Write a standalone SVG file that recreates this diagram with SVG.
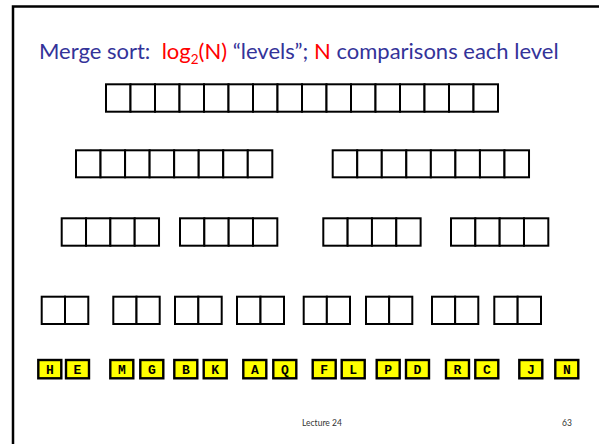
<svg xmlns="http://www.w3.org/2000/svg" width="599" height="444" viewBox="0 0 599 444">
  <style>
    .frame { fill: none; stroke: #000; stroke-width: 2.5; }
    .cell { fill: #fff; stroke: #000; stroke-width: 2; }
    .key { fill: #ffff00; stroke: #000; stroke-width: 2.4; }
    .key-edge { fill: none; stroke: #888; stroke-width: 0.8; }
    .title { font-family: "Lato", "Liberation Sans", sans-serif; font-size: 22px; fill: #333399; }
    .hot { fill: #ff0000; }
    .sub { font-size: 13.5px; }
    .letter { font-family: "Liberation Mono", "Courier New", monospace; font-weight: bold; font-size: 13px; fill: #000; text-anchor: middle; }
    .foot { font-family: "Lato", "Liberation Sans", sans-serif; font-size: 8.5px; fill: #333; }
  </style>

  <rect width="599" height="444" fill="#fff"/>
  <!-- slide frame: top and left edges -->
  <path class="frame" d="M13 444 V6.5 H599"/>

  <text class="title" x="39" y="59" xml:space="preserve">Merge sort:  <tspan class="hot">log<tspan class="sub" dy="5">2</tspan><tspan dy="-5">(N)</tspan></tspan> “levels”; <tspan class="hot">N</tspan> comparisons each level</text>

  <!-- level 0: one run of 16 -->
  <g id="level0">
    <g id="run-16">
      <rect class="cell" x="106" y="84.3" width="24.5" height="27.4"/>
      <rect class="cell" x="130.5" y="84.3" width="24.5" height="27.4"/>
      <rect class="cell" x="155" y="84.3" width="24.5" height="27.4"/>
      <rect class="cell" x="179.5" y="84.3" width="24.5" height="27.4"/>
      <rect class="cell" x="204" y="84.3" width="24.5" height="27.4"/>
      <rect class="cell" x="228.5" y="84.3" width="24.5" height="27.4"/>
      <rect class="cell" x="253" y="84.3" width="24.5" height="27.4"/>
      <rect class="cell" x="277.5" y="84.3" width="24.5" height="27.4"/>
      <rect class="cell" x="302" y="84.3" width="24.5" height="27.4"/>
      <rect class="cell" x="326.5" y="84.3" width="24.5" height="27.4"/>
      <rect class="cell" x="351" y="84.3" width="24.5" height="27.4"/>
      <rect class="cell" x="375.5" y="84.3" width="24.5" height="27.4"/>
      <rect class="cell" x="400" y="84.3" width="24.5" height="27.4"/>
      <rect class="cell" x="424.5" y="84.3" width="24.5" height="27.4"/>
      <rect class="cell" x="449" y="84.3" width="24.5" height="27.4"/>
      <rect class="cell" x="473.5" y="84.3" width="24.5" height="27.4"/>
    </g>
  </g>

  <!-- level 1: two runs of 8 -->
  <g id="level1">
    <g id="run-8a">
      <rect class="cell" x="76" y="150.3" width="24.54" height="27"/>
      <rect class="cell" x="100.54" y="150.3" width="24.54" height="27"/>
      <rect class="cell" x="125.08" y="150.3" width="24.54" height="27"/>
      <rect class="cell" x="149.62" y="150.3" width="24.54" height="27"/>
      <rect class="cell" x="174.16" y="150.3" width="24.54" height="27"/>
      <rect class="cell" x="198.7" y="150.3" width="24.54" height="27"/>
      <rect class="cell" x="223.24" y="150.3" width="24.54" height="27"/>
      <rect class="cell" x="247.78" y="150.3" width="24.54" height="27"/>
    </g>
    <g id="run-8b">
      <rect class="cell" x="332.7" y="150.3" width="24.54" height="27"/>
      <rect class="cell" x="357.24" y="150.3" width="24.54" height="27"/>
      <rect class="cell" x="381.78" y="150.3" width="24.54" height="27"/>
      <rect class="cell" x="406.32" y="150.3" width="24.54" height="27"/>
      <rect class="cell" x="430.86" y="150.3" width="24.54" height="27"/>
      <rect class="cell" x="455.4" y="150.3" width="24.54" height="27"/>
      <rect class="cell" x="479.94" y="150.3" width="24.54" height="27"/>
      <rect class="cell" x="504.48" y="150.3" width="24.54" height="27"/>
    </g>
  </g>

  <!-- level 2: four runs of 4 -->
  <g id="level2">
    <g id="run-4a">
      <rect class="cell" x="61.7" y="218.3" width="24.33" height="27.4"/>
      <rect class="cell" x="86.03" y="218.3" width="24.33" height="27.4"/>
      <rect class="cell" x="110.36" y="218.3" width="24.33" height="27.4"/>
      <rect class="cell" x="134.69" y="218.3" width="24.33" height="27.4"/>
    </g>
    <g id="run-4b">
      <rect class="cell" x="180" y="218.3" width="24.33" height="27.4"/>
      <rect class="cell" x="204.33" y="218.3" width="24.33" height="27.4"/>
      <rect class="cell" x="228.66" y="218.3" width="24.33" height="27.4"/>
      <rect class="cell" x="252.99" y="218.3" width="24.33" height="27.4"/>
    </g>
    <g id="run-4c">
      <rect class="cell" x="323.3" y="218.3" width="24.33" height="27.4"/>
      <rect class="cell" x="347.63" y="218.3" width="24.33" height="27.4"/>
      <rect class="cell" x="371.96" y="218.3" width="24.33" height="27.4"/>
      <rect class="cell" x="396.29" y="218.3" width="24.33" height="27.4"/>
    </g>
    <g id="run-4d">
      <rect class="cell" x="451" y="218.3" width="24.33" height="27.4"/>
      <rect class="cell" x="475.33" y="218.3" width="24.33" height="27.4"/>
      <rect class="cell" x="499.66" y="218.3" width="24.33" height="27.4"/>
      <rect class="cell" x="523.99" y="218.3" width="24.33" height="27.4"/>
    </g>
  </g>

  <!-- level 3: eight runs of 2 -->
  <g id="level3">
    <g id="run-2a"><rect class="cell" x="41.7" y="296.7" width="23.3" height="27.3"/><rect class="cell" x="65" y="296.7" width="23.3" height="27.3"/></g>
    <g id="run-2b"><rect class="cell" x="113.3" y="296.7" width="23.2" height="27.3"/><rect class="cell" x="136.5" y="296.7" width="23.2" height="27.3"/></g>
    <g id="run-2c"><rect class="cell" x="175" y="296.7" width="23.35" height="27.3"/><rect class="cell" x="198.35" y="296.7" width="23.35" height="27.3"/></g>
    <g id="run-2d"><rect class="cell" x="237" y="296.7" width="23.5" height="27.3"/><rect class="cell" x="260.5" y="296.7" width="23.5" height="27.3"/></g>
    <g id="run-2e"><rect class="cell" x="303.7" y="296.7" width="23.15" height="27.3"/><rect class="cell" x="326.85" y="296.7" width="23.15" height="27.3"/></g>
    <g id="run-2f"><rect class="cell" x="366" y="296.7" width="23.15" height="27.3"/><rect class="cell" x="389.15" y="296.7" width="23.15" height="27.3"/></g>
    <g id="run-2g"><rect class="cell" x="432" y="296.7" width="23.15" height="27.3"/><rect class="cell" x="455.15" y="296.7" width="23.15" height="27.3"/></g>
    <g id="run-2h"><rect class="cell" x="494.3" y="296.7" width="23.35" height="27.3"/><rect class="cell" x="517.65" y="296.7" width="23.35" height="27.3"/></g>
  </g>

  <!-- level 4: the sixteen input keys -->
  <g id="keys">
    <g id="key-H"><rect class="key" x="38.3" y="360" width="23" height="18.3"/><text class="letter" x="49.8" y="373.5">H</text></g>
    <g id="key-E"><rect class="key" x="66" y="360" width="23" height="18.3"/><text class="letter" x="77.5" y="373.5">E</text></g>
    <g id="key-M"><rect class="key" x="110.3" y="360" width="23" height="18.3"/><text class="letter" x="121.8" y="373.5">M</text></g>
    <g id="key-G"><rect class="key" x="140.3" y="360" width="23" height="18.3"/><text class="letter" x="151.8" y="373.5">G</text></g>
    <g id="key-B"><rect class="key" x="174.3" y="360" width="23" height="18.3"/><text class="letter" x="185.8" y="373.5">B</text></g>
    <g id="key-K"><rect class="key" x="203.7" y="360" width="23" height="18.3"/><text class="letter" x="215.2" y="373.5">K</text></g>
    <g id="key-A"><rect class="key" x="243.3" y="360" width="23" height="18.3"/><text class="letter" x="254.8" y="373.5">A</text></g>
    <g id="key-Q"><rect class="key" x="273.3" y="360" width="23" height="18.3"/><text class="letter" x="284.8" y="373.5">Q</text></g>
    <g id="key-F"><rect class="key" x="312.7" y="360" width="23" height="18.3"/><text class="letter" x="324.2" y="373.5">F</text></g>
    <g id="key-L"><rect class="key" x="341.7" y="360" width="23" height="18.3"/><text class="letter" x="353.2" y="373.5">L</text></g>
    <g id="key-P"><rect class="key" x="376.7" y="360" width="23" height="18.3"/><text class="letter" x="388.2" y="373.5">P</text></g>
    <g id="key-D"><rect class="key" x="406" y="360" width="23" height="18.3"/><text class="letter" x="417.5" y="373.5">D</text></g>
    <g id="key-R"><rect class="key" x="446" y="360" width="23" height="18.3"/><text class="letter" x="457.5" y="373.5">R</text></g>
    <g id="key-C"><rect class="key" x="475.3" y="360" width="23" height="18.3"/><text class="letter" x="486.8" y="373.5">C</text></g>
    <g id="key-J"><rect class="key" x="519.3" y="360" width="23" height="18.3"/><text class="letter" x="530.8" y="373.5">J</text></g>
    <g id="key-N"><rect class="key" x="555.3" y="360" width="23" height="18.3"/><text class="letter" x="566.8" y="373.5">N</text></g>
  </g>

  <text class="foot" x="302" y="426">Lecture 24</text>
  <text class="foot" x="562" y="426">63</text>
</svg>
